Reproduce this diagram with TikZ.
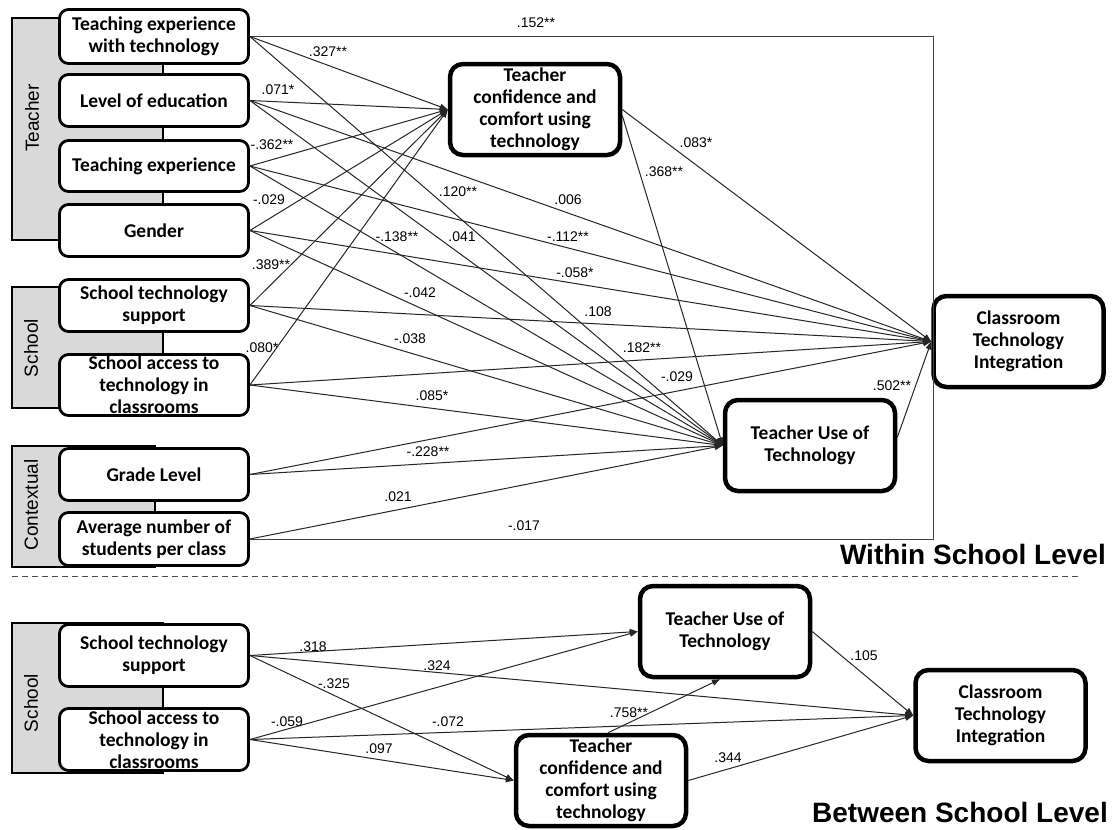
\documentclass[tikz,border=0pt]{standalone}
\usepackage{fontspec}
\setmainfont{Liberation Sans}
\newfontfamily\boxfont{Carlito}
\usetikzlibrary{arrows.meta}

\tikzset{
  varbox/.style={draw, line width=2.8pt, rounded corners=9pt, fill=white, align=center,
    inner sep=0pt, minimum width=189pt,
    font=\boxfont\bfseries\fontsize{19.5}{22}\selectfont},
  keybox/.style={varbox, line width=4.5pt, rounded corners=13pt,
    minimum width=170pt, minimum height=91pt},
  bracket/.style={draw, line width=2.8pt, fill=gray!30},
  grouplabel/.style={rotate=90, inner sep=0pt, font=\fontsize{19}{22}\selectfont},
  effect/.style={line width=1pt, draw=black!85, -{Triangle[length=8pt,width=6pt]}},
  framepath/.style={line width=1pt, draw=black!75},
  coef/.style={font=\fontsize{14}{16}\selectfont, inner sep=0pt},
  level/.style={anchor=east, font=\bfseries\fontsize{28}{32}\selectfont, inner sep=0pt},
}

\begin{document}
\begin{tikzpicture}[x=1pt,y=-1pt]
\useasboundingbox (0,0) rectangle (1114,830);
\fill[white] (0,0) rectangle (1114,830);

% ---------- group brackets ----------
\draw[bracket] (12,18) rectangle (163,240);
\draw[bracket] (12,287) rectangle (163,408);
\draw[bracket] (12,446) rectangle (155,567);
\draw[bracket] (12,623) rectangle (163,773);

\node[grouplabel] (gT) at (32,118) {Teacher};
\node[grouplabel] (gS) at (31,348) {School};
\node[grouplabel] (gC) at (31,505) {Contextual};
\node[grouplabel] (gSB) at (31,703) {School};

% ---------- within school level: predictors ----------
\node[varbox, minimum height=54pt] (tet) at (154,36.5) {Teaching experience\\with technology};
\node[varbox, minimum height=52pt] (edu) at (154,100.5) {Level of education};
\node[varbox, minimum height=51pt] (exp) at (154,166) {Teaching experience};
\node[varbox, minimum height=52pt] (gen) at (154,230.5) {Gender};
\node[varbox, minimum height=52pt] (sup) at (154,305.5) {School technology\\support};
\node[varbox, minimum height=61pt] (acc) at (154,385) {School access to\\technology in\\classrooms};
\node[varbox, minimum height=52pt] (grd) at (154,474.5) {Grade Level};
\node[varbox, minimum height=53pt] (avg) at (154,539) {Average number of\\students per class};

% ---------- within school level: outcomes ----------
\node[keybox] (conf) at (535,109.5) {Teacher\\confidence and\\comfort using\\technology};
\node[keybox] (use) at (810,445.5) {Teacher Use of\\Technology};
\node[keybox] (cls) at (1018.5,341.5) {Classroom\\Technology\\Integration};

% ---------- between school level ----------
\node[varbox, minimum height=62pt] (bsup) at (154,655.5) {School technology\\support};
\node[varbox, minimum height=62pt] (bacc) at (154,739.5) {School access to\\technology in\\classrooms};
\node[keybox] (useB) at (725,631.5) {Teacher Use of\\Technology};
\node[keybox] (confB) at (601,780.5) {Teacher\\confidence and\\comfort using\\technology};
\node[keybox] (clsB) at (1000.5,715.5) {Classroom\\Technology\\Integration};

% ---------- frame path (direct effects to integration) ----------
\coordinate (fTop) at (933,36.5);
\coordinate (fBot) at (933,539);
\draw[framepath] (tet.east) -- (fTop) -- (fBot) -- (avg.east);

% ---------- within: paths to confidence ----------
\draw[effect] (tet.east) -- (conf.west);
\draw[effect] (edu.east) -- (conf.west);
\draw[effect] (exp.east) -- (conf.west);
\draw[effect] (gen.east) -- (conf.west);
\draw[effect] (sup.east) -- (conf.west);
\draw[effect] (acc.east) -- (conf.west);

% ---------- within: paths to teacher use ----------
\draw[effect] (tet.east) -- (use.west);
\draw[effect] (edu.east) -- (use.west);
\draw[effect] (exp.east) -- (use.west);
\draw[effect] (gen.east) -- (use.west);
\draw[effect] (sup.east) -- (use.west);
\draw[effect] (acc.east) -- (use.west);
\draw[effect] (grd.east) -- (use.west);
\draw[effect] (avg.east) -- (use.west);
\draw[effect] ([yshift=-6pt]conf.east) -- (use.west);

% ---------- within: paths to integration ----------
\draw[effect] (edu.east) -- (cls.west);
\draw[effect] (exp.east) -- (cls.west);
\draw[effect] (gen.east) -- (cls.west);
\draw[effect] (sup.east) -- (cls.west);
\draw[effect] (acc.east) -- (cls.west);
\draw[effect] (grd.east) -- (cls.west);
\draw[effect] (conf.east) -- (cls.west);
\draw[effect] ([yshift=8pt]use.east) -- (cls.west);

% ---------- within: coefficients ----------
\node[coef] (k01) at (536,23) {.152**};
\node[coef] (k02) at (328,52) {.327**};
\node[coef] (k03) at (278,90) {.071*};
\node[coef] (k04) at (272,145) {-.362**};
\node[coef] (k05) at (269,200) {-.029};
\node[coef] (k06) at (271,265) {.389**};
\node[coef] (k07) at (262,348) {.080*};
\node[coef] (k08) at (458,192) {.120**};
\node[coef] (k09) at (568,200) {.006};
\node[coef] (k10) at (397,237) {-.138**};
\node[coef] (k11) at (462,237) {.041};
\node[coef] (k12) at (568,237) {-.112**};
\node[coef] (k13) at (575,273) {-.058*};
\node[coef] (k14) at (420,293) {-.042};
\node[coef] (k15) at (598,312) {.108};
\node[coef] (k16) at (410,339) {-.038};
\node[coef] (k17) at (642,348) {.182**};
\node[coef] (k18) at (677,377) {-.029};
\node[coef] (k19) at (432,396) {.085*};
\node[coef] (k20) at (428,452) {-.228**};
\node[coef] (k21) at (398,497) {.021};
\node[coef] (k22) at (524,526) {-.017};
\node[coef] (k23) at (696,143) {.083*};
\node[coef] (k24) at (664,172) {.368**};
\node[coef] (k25) at (892,386) {.502**};

\node[level] (within) at (1106,554) {Within School Level};

% ---------- divider ----------
\draw[line width=1pt, black!70, dash pattern=on 6pt off 4pt] (12,576) -- (1080,576);

% ---------- between: paths ----------
\draw[effect] (bsup.east) -- (useB.west);
\draw[effect] (bsup.east) -- (clsB.west);
\draw[effect] (bsup.east) -- (confB.west);
\draw[effect] (bacc.east) -- (useB.west);
\draw[effect] (bacc.east) -- (clsB.west);
\draw[effect] (bacc.east) -- (confB.west);
\draw[effect] ([xshift=7pt]confB.north) -- ([xshift=-5pt]useB.south);
\draw[effect] (confB.east) -- (clsB.west);
\draw[effect] (useB.east) -- (clsB.west);

% ---------- between: coefficients ----------
\node[coef] (b01) at (313,647) {.318};
\node[coef] (b02) at (437,666) {.324};
\node[coef] (b03) at (334,684) {-.325};
\node[coef] (b04) at (287,722) {-.059};
\node[coef] (b05) at (448,722) {-.072};
\node[coef] (b06) at (379,749) {.097};
\node[coef] (b07) at (629,713) {.758**};
\node[coef] (b08) at (728,758) {.344};
\node[coef] (b09) at (864,656) {.105};

\node[level] (between) at (1108,812) {Between School Level};
\end{tikzpicture}
\end{document}
